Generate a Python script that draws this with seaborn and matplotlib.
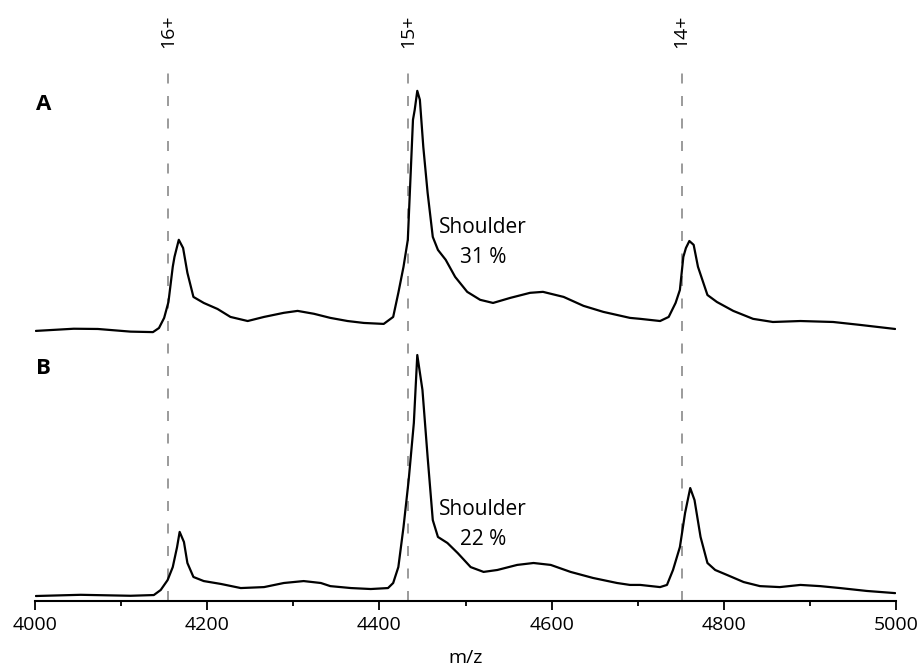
import numpy as np
import pandas as pd
import matplotlib
matplotlib.use("Agg")
import matplotlib.pyplot as plt
import seaborn as sns
from matplotlib.ticker import MultipleLocator

# ---- data (m/z, relative intensity) ----
mz_a = [4001, 4045, 4073, 4111, 4137, 4144, 4150, 4155, 4160, 4162, 4167, 4172, 4177, 4184,
        4196, 4212, 4227, 4247, 4266, 4289, 4305, 4324, 4343, 4363, 4382, 4405, 4416, 4422,
        4428, 4433, 4436, 4439, 4441, 4444, 4447, 4451, 4456, 4462, 4468, 4477, 4488, 4502,
        4517, 4532, 4552, 4575, 4590, 4614, 4637, 4660, 4691, 4703, 4726, 4736, 4744, 4749,
        4753, 4756, 4760, 4765, 4770, 4781, 4792, 4811, 4834, 4857, 4889, 4927, 4958, 4999]
int_a = [0.0, 0.9, 0.8, -0.3, -0.5, 1.2, 5.4, 12.0, 26.6, 30.7, 37.8, 34.4, 24.1, 14.1,
         11.6, 9.1, 5.8, 4.1, 5.8, 7.5, 8.3, 7.1, 5.4, 4.1, 3.3, 2.9, 5.8, 15.8,
         26.6, 37.8, 62.7, 87.6, 91.7, 99.6, 95.9, 76.3, 57.3, 39.0, 33.6, 29.5, 22.4, 16.2,
         12.9, 11.6, 13.7, 15.8, 16.2, 14.1, 10.4, 7.9, 5.4, 5.0, 4.1, 5.8, 11.6, 17.0,
         30.7, 34.4, 37.3, 35.7, 26.6, 14.9, 12.0, 8.3, 5.0, 3.7, 4.1, 3.7, 2.5, 0.8]

mz_b = [4001, 4053, 4111, 4138, 4146, 4154, 4160, 4165, 4168, 4173, 4177, 4184, 4196, 4216,
        4239, 4266, 4289, 4312, 4332, 4343, 4367, 4390, 4410, 4416, 4422, 4428, 4434, 4440,
        4444, 4450, 4456, 4462, 4468, 4479, 4491, 4506, 4521, 4537, 4560, 4579, 4599, 4622,
        4648, 4676, 4691, 4703, 4726, 4734, 4741, 4749, 4755, 4761, 4766, 4773, 4781, 4790,
        4804, 4823, 4842, 4865, 4889, 4912, 4935, 4966, 4999]
int_b = [0.0, 0.5, 0.1, 0.4, 2.5, 6.6, 12.0, 20.3, 26.6, 22.4, 13.7, 7.9, 6.2, 5.0,
         3.3, 3.7, 5.4, 6.2, 5.4, 4.1, 3.3, 2.9, 3.3, 5.4, 12.0, 28.6, 48.1, 71.8,
         100.0, 85.5, 57.7, 31.5, 24.5, 22.0, 17.8, 12.0, 10.0, 10.8, 12.9, 13.7, 12.9, 10.0,
         7.5, 5.4, 4.6, 4.6, 3.7, 4.6, 10.8, 20.3, 34.4, 44.8, 39.8, 24.5, 13.7, 10.8,
         8.7, 5.8, 4.1, 3.7, 4.6, 4.1, 3.3, 2.1, 1.2]

charge_labels = ["16+", "15+", "14+"]
charge_mz = [4155, 4433, 4751]
panel_labels = ["A", "B"]
shoulder_pct = ["31 %", "22 %"]

offset_a = 110.0

# ---- styling ----
sns.set_theme(style="white")
plt.rcParams["font.family"] = ["Open Sans", "DejaVu Sans"]
plt.rcParams["text.color"] = "black"
plt.rcParams["axes.labelcolor"] = "black"

W, H = 921, 668
fig = plt.figure(figsize=(W / 100, H / 100), dpi=100)
ax = fig.add_axes([35 / W, (H - 601) / H, 861 / W, 601 / H])

df_a = pd.DataFrame({"mz": mz_a, "y": np.array(int_a) + offset_a})
df_b = pd.DataFrame({"mz": mz_b, "y": int_b})
sns.lineplot(data=df_a, x="mz", y="y", ax=ax, color="black", lw=1.6,
             sort=False, estimator=None)
sns.lineplot(data=df_b, x="mz", y="y", ax=ax, color="black", lw=1.6,
             sort=False, estimator=None)

ymin, ymax = -2.07, 247.3
ax.set_xlim(4000, 5000)
ax.set_ylim(ymin, ymax)

# dashed charge-state markers
for lab, m in zip(charge_labels, charge_mz):
    ax.plot([m, m], [ymin, 221.6], color="#8a8a8a", lw=1.2,
            linestyle=(0, (6.0, 7.5)), zorder=1)
    ax.text(m, 234.2, lab, rotation=90, ha="center", va="center",
            fontsize=14, color="black")

# shoulder annotations
ax.text(4520, 150.5, "Shoulder", ha="center", va="baseline", fontsize=15, color="black")
ax.text(4520, 138.0, shoulder_pct[0], ha="center", va="baseline", fontsize=15, color="black")
ax.text(4520, 33.6, "Shoulder", ha="center", va="baseline", fontsize=15, color="black")
ax.text(4520, 21.2, shoulder_pct[1], ha="center", va="baseline", fontsize=15, color="black")

# panel labels
fig.text(36 / W, 1 - 105 / H, panel_labels[0], fontsize=16, fontweight="bold",
         ha="left", va="center", color="black")
fig.text(36 / W, 1 - 368.5 / H, panel_labels[1], fontsize=16, fontweight="bold",
         ha="left", va="center", color="black")

# axes cosmetics
for s in ["top", "right", "left"]:
    ax.spines[s].set_visible(False)
ax.spines["bottom"].set_color("black")
ax.spines["bottom"].set_linewidth(1.5)
ax.set_yticks([])
ax.xaxis.set_major_locator(MultipleLocator(200))
ax.xaxis.set_minor_locator(MultipleLocator(100))
ax.tick_params(axis="x", which="major", direction="out", length=6.5, width=1.3,
               colors="black", labelsize=14, pad=4, bottom=True)
ax.tick_params(axis="x", which="minor", direction="out", length=3.3, width=1.3,
               colors="black", bottom=True)
ax.set_ylabel("")
ax.set_xlabel("m/z", fontsize=14, labelpad=11, color="black")

fig.savefig("out.png", dpi=100)
